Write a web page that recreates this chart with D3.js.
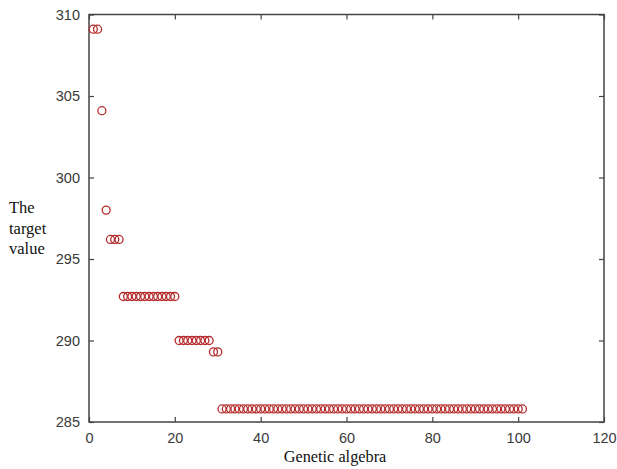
<!DOCTYPE html>
<html>
<head>
<meta charset="utf-8">
<script src="https://cdn.jsdelivr.net/npm/d3@7"></script>
<style>
  body { margin: 0; background: #fff; }
  svg { display: block; }
</style>
</head>
<body>
<div id="chart"></div>
<script>
// generation number for each point, and the best target value at that generation
const generations = [
  1, 2, 3, 4, 5, 6, 7, 8, 9, 10,
  11, 12, 13, 14, 15, 16, 17, 18, 19, 20,
  21, 22, 23, 24, 25, 26, 27, 28, 29, 30,
  31, 32, 33, 34, 35, 36, 37, 38, 39, 40,
  41, 42, 43, 44, 45, 46, 47, 48, 49, 50,
  51, 52, 53, 54, 55, 56, 57, 58, 59, 60,
  61, 62, 63, 64, 65, 66, 67, 68, 69, 70,
  71, 72, 73, 74, 75, 76, 77, 78, 79, 80,
  81, 82, 83, 84, 85, 86, 87, 88, 89, 90,
  91, 92, 93, 94, 95, 96, 97, 98, 99, 100,
  101
];

const values = [
  309.1, 309.1, 304.1, 298.0, 296.2, 296.2, 296.2, 292.7, 292.7, 292.7,
  292.7, 292.7, 292.7, 292.7, 292.7, 292.7, 292.7, 292.7, 292.7, 292.7,
  290.0, 290.0, 290.0, 290.0, 290.0, 290.0, 290.0, 290.0, 289.3, 289.3,
  285.8, 285.8, 285.8, 285.8, 285.8, 285.8, 285.8, 285.8, 285.8, 285.8,
  285.8, 285.8, 285.8, 285.8, 285.8, 285.8, 285.8, 285.8, 285.8, 285.8,
  285.8, 285.8, 285.8, 285.8, 285.8, 285.8, 285.8, 285.8, 285.8, 285.8,
  285.8, 285.8, 285.8, 285.8, 285.8, 285.8, 285.8, 285.8, 285.8, 285.8,
  285.8, 285.8, 285.8, 285.8, 285.8, 285.8, 285.8, 285.8, 285.8, 285.8,
  285.8, 285.8, 285.8, 285.8, 285.8, 285.8, 285.8, 285.8, 285.8, 285.8,
  285.8, 285.8, 285.8, 285.8, 285.8, 285.8, 285.8, 285.8, 285.8, 285.8,
  285.8
];

const xTicks = [0, 20, 40, 60, 80, 100, 120];
const yTicks = [285, 290, 295, 300, 305, 310];

const width = 617, height = 469;
const mLeft = 89, mRight = 604, mTop = 14.5, mBottom = 422;

const svg = d3.select("#chart")
  .append("svg")
  .attr("width", width)
  .attr("height", height);

const x = d3.scaleLinear().domain([0, 120]).range([mLeft, mRight]);
const y = d3.scaleLinear().domain([285, 310]).range([mBottom, mTop]);

const axisColor = "#444";
const tickFont = "Arial, 'Liberation Sans', sans-serif";

// plot box
svg.append("rect")
  .attr("x", mLeft)
  .attr("y", mTop)
  .attr("width", mRight - mLeft)
  .attr("height", mBottom - mTop)
  .attr("fill", "none")
  .attr("stroke", axisColor)
  .attr("stroke-width", 1.5);

// bottom axis, ticks point inward
svg.append("g")
  .attr("transform", `translate(0,${mBottom})`)
  .call(d3.axisBottom(x).tickValues(xTicks).tickSize(-5).tickPadding(11).tickSizeOuter(0));
// top ticks
svg.append("g")
  .attr("transform", `translate(0,${mTop})`)
  .call(d3.axisTop(x).tickValues(xTicks).tickSize(-5).tickFormat("").tickSizeOuter(0));

svg.append("g")
  .attr("transform", `translate(${mLeft},0)`)
  .call(d3.axisLeft(y).tickValues(yTicks).tickSize(-5).tickPadding(9).tickSizeOuter(0));
svg.append("g")
  .attr("transform", `translate(${mRight},0)`)
  .call(d3.axisRight(y).tickValues(yTicks).tickSize(-5).tickFormat("").tickSizeOuter(0));

svg.selectAll(".domain").remove();
svg.selectAll(".tick line").attr("stroke", axisColor).attr("stroke-width", 1.2);
svg.selectAll(".tick text")
  .attr("fill", "#3a3a3a")
  .style("font-family", tickFont)
  .style("font-size", "14.5px");

// points
svg.append("g")
  .selectAll("circle")
  .data(values)
  .enter()
  .append("circle")
    .attr("cx", (d, i) => x(generations[i]))
    .attr("cy", d => y(d))
    .attr("r", 4)
    .attr("fill", "none")
    .attr("stroke", "#b52a2a")
    .attr("stroke-width", 1.3);

// labels
const serif = "'Times New Roman', 'Liberation Serif', serif";
svg.append("text")
  .attr("x", 335)
  .attr("y", 462)
  .attr("text-anchor", "middle")
  .style("font-family", serif)
  .style("font-size", "16.3px")
  .attr("fill", "#111")
  .text("Genetic algebra");

const yLabel = svg.append("text")
  .attr("x", 9)
  .attr("y", 213)
  .style("font-family", serif)
  .style("font-size", "16.5px")
  .attr("fill", "#111");
["The", "target", "value"].forEach((w, i) => {
  yLabel.append("tspan")
    .attr("x", 9)
    .attr("dy", i === 0 ? 0 : 20.7)
    .text(w);
});
</script>
</body>
</html>
